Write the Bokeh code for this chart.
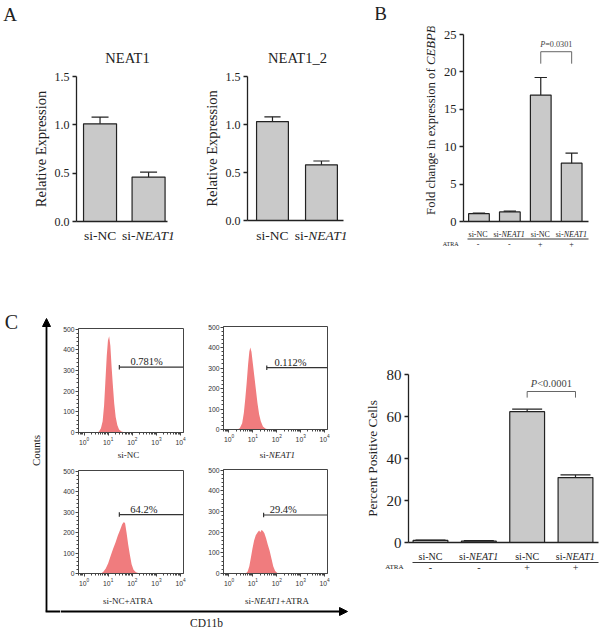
import math
from bokeh.plotting import figure
from bokeh.layouts import row, column
from bokeh.models import (Range1d, FixedTicker, PrintfTickFormatter, Label, Arrow,
                          NormalHead)
from bokeh.embed import file_html
from bokeh.resources import INLINE

# ---------------- data ----------------
a_groups = [("si-NC", None), ("si-", "NEAT1")]
neat1_mean = [1.01, 0.46]
neat1_err = [0.07, 0.05]
neat1_2_mean = [1.03, 0.58]
neat1_2_err = [0.05, 0.04]

bc_groups = [("si-NC", None), ("si-", "NEAT1"), ("si-NC", None), ("si-", "NEAT1")]
atra_flags = ["-", "-", "+", "+"]
cebpb_mean = [1.05, 1.28, 16.9, 7.8]
cebpb_err = [0.08, 0.10, 2.35, 1.35]
cebpb_p = "=0.0301"
cebpb_bracket = [21.1, 22.7]

cd11b_mean = [1.0, 0.7, 62.3, 30.9]
cd11b_err = [0.2, 0.2, 1.2, 1.3]
cd11b_p = "<0.0001"
cd11b_bracket = [69.0, 71.9]

h1_x = [3.55, 4.17, 5.01, 5.89, 6.76, 7.59, 8.71, 9.77, 10.96, 12.30, 13.80, 15.49,
        17.78, 20.42, 23.99, 28.18, 35.48, 50.12]
h1_n = [0, 5, 20, 55, 130, 240, 370, 445, 465, 420, 320, 235, 140, 75, 35, 15, 5, 0]
h2_x = [2.24, 2.82, 3.55, 4.17, 4.79, 5.50, 6.31, 7.08, 7.76, 8.71, 10.0, 11.48, 13.18,
        15.49, 18.20, 21.38, 26.30, 33.11, 44.67]
h2_n = [0, 6, 30, 80, 150, 230, 320, 380, 400, 380, 320, 260, 200, 130, 75, 40, 15, 5, 0]
h3_x = [5.01, 6.31, 7.94, 10.0, 12.59, 15.85, 19.95, 25.12, 31.62, 38.02, 44.67, 50.12,
        57.54, 67.61, 79.43, 93.33, 112.2, 141.3, 199.5]
h3_n = [0, 8, 25, 50, 85, 120, 150, 185, 215, 240, 252, 245, 200, 140, 90, 45, 18, 6, 0]
h4_x = [5.01, 6.03, 7.08, 8.32, 9.55, 11.22, 13.18, 15.85, 18.20, 20.42, 22.91, 26.30,
        30.20, 35.48, 41.69, 50.12, 60.26, 70.79, 85.11, 104.7, 141.3]
h4_n = [0, 10, 35, 80, 120, 160, 185, 200, 208, 200, 210, 205, 195, 170, 140, 110, 70,
        35, 12, 3, 0]
hist_names = [[("si-NC", False)], [("si-", False), ("NEAT1", True)],
              [("si-NC+ATRA", False)], [("si-", False), ("NEAT1", True), ("+ATRA", False)]]
gate_start = [29, 38, 29, 28]
gate_level = [316, 302, 288, 283]
gate_pct = ["0.781%", "0.112%", "64.2%", "29.4%"]
gate_text_x = [389, 372, 300, 186]

# ---------------- style ----------------
SERIF = "Liberation Serif"
SANS = "Liberation Sans"
INK = "#222222"
BAR_FILL = "#c9c9c9"
HIST_FILL = "#f07c7e"
HX0, HX1 = 10 ** -0.23, 10 ** 4.12

W_REG = {' ': 250, 's': 389, 'i': 278, '-': 333, 'N': 722, 'C': 667, 'E': 611, 'A': 722,
         'T': 611, '1': 500, '+': 564, 'R': 667, 'F': 556, 'o': 500, 'l': 278, 'd': 500,
         'c': 444, 'h': 500, 'a': 444, 'n': 500, 'g': 500, 'e': 444, 'x': 500, 'p': 500,
         'r': 333, 'f': 333, '=': 564, '<': 564, '0': 500, '3': 500, '.': 250}
W_IT = {'N': 667, 'E': 611, 'A': 611, 'T': 556, '1': 500, 'C': 667, 'B': 611, 'P': 611}


def tw(text, italic, size):
    tab = W_IT if italic else W_REG
    return sum(tab.get(ch, 500) for ch in text) / 1000.0 * size


def iso(p):
    return column(p)


def chart_fig(tile, frame, **kw):
    x0, x1, y0, y1 = tile
    fl, fr, ft, fb = frame
    p = figure(width=x1 - x0, height=y1 - y0, title=None, output_backend="svg",
               toolbar_location=None, tools="", **kw)
    p.min_border_left = int(round(fl - x0))
    p.min_border_right = int(round(x1 - fr))
    p.min_border_top = int(round(ft - y0))
    p.min_border_bottom = int(round(y1 - fb))
    p.outline_line_color = None
    p.background_fill_color = "white"
    p.border_fill_color = "white"
    p.grid.visible = False
    return p


def strip(tile):
    x0, x1, y0, y1 = tile
    p = figure(width=x1 - x0, height=y1 - y0, title=None, output_backend="svg",
               toolbar_location=None, tools="", x_range=Range1d(x0, x1),
               y_range=Range1d(y1, y0), x_axis_location=None, y_axis_location=None)
    p.min_border_left = p.min_border_right = p.min_border_top = p.min_border_bottom = 0
    p.outline_line_color = None
    p.background_fill_color = "white"
    p.border_fill_color = "white"
    p.grid.visible = False
    return p


def txt(p, x, y, text, size, italic=False, align="center", baseline="middle", angle=0.0,
        font=SERIF, color=INK):
    p.add_layout(Label(x=x, y=y, text=text, text_font=font, text_font_size=f"{size}px",
                       text_font_style="italic" if italic else "normal",
                       text_align=align, text_baseline=baseline, angle=angle,
                       text_color=color))


def mixed_h(p, xc, y, parts, size, color=INK):
    total = sum(tw(t, it, size) for t, it in parts)
    x = xc - total / 2
    for t, it in parts:
        txt(p, x, y, t, size, italic=it, align="left", color=color)
        x += tw(t, it, size)


def mixed_v(p, x, yc, parts, size):
    total = sum(tw(t, it, size) for t, it in parts)
    y = yc + total / 2
    for t, it in parts:
        txt(p, x, y, t, size, italic=it, align="left", angle=math.pi / 2)
        y -= tw(t, it, size)


def line(p, xa, ya, xb, yb, width=1.0, color=INK, head=False):
    p.add_layout(Arrow(x_start=xa, y_start=ya, x_end=xb, y_end=yb, line_color=color,
                       line_width=width,
                       end=NormalHead(size=8, fill_color=color, line_color=color)
                       if head else None))


def cat_px(frame, xr, i):
    fl, fr, ft, fb = frame
    return fl + (i - xr[0]) / (xr[1] - xr[0]) * (fr - fl)


def bar_fig(tile, frame, xr, yr, yticks, fmt, tick_size, means, errs, bw, cw,
            ylabel=None, ylabel_size=14, ylabel_standoff=3):
    p = chart_fig(tile, frame, x_range=Range1d(*xr), y_range=Range1d(*yr))
    p.xaxis.ticker = FixedTicker(ticks=[])
    p.yaxis.ticker = FixedTicker(ticks=yticks)
    p.yaxis.formatter = PrintfTickFormatter(format=fmt)
    p.axis.axis_line_color = INK
    p.axis.axis_line_width = 1.3
    p.axis.major_tick_line_color = INK
    p.axis.major_tick_line_width = 1.3
    p.yaxis.major_tick_out = 4
    p.yaxis.major_tick_in = 0
    p.axis.minor_tick_line_color = None
    p.yaxis.major_label_standoff = 3
    p.yaxis.major_label_text_font = SERIF
    p.yaxis.major_label_text_font_size = f"{tick_size}px"
    p.yaxis.major_label_text_color = INK
    if ylabel:
        p.yaxis.axis_label = ylabel
        p.yaxis.axis_label_text_font = SERIF
        p.yaxis.axis_label_text_font_size = f"{ylabel_size}px"
        p.yaxis.axis_label_text_font_style = "normal"
        p.yaxis.axis_label_text_color = INK
        p.yaxis.axis_label_standoff = ylabel_standoff
    xs = list(range(len(means)))
    p.vbar(x=xs, top=means, width=bw, fill_color=BAR_FILL, line_color=INK, line_width=1.2)
    tops = [m + e for m, e in zip(means, errs)]
    p.segment(x0=xs, y0=means, x1=xs, y1=tops, line_color=INK, line_width=1.2)
    p.segment(x0=[x - cw / 2 for x in xs], y0=tops, x1=[x + cw / 2 for x in xs], y1=tops,
              line_color=INK, line_width=1.2)
    return p


# ---------------- panel A ----------------
XR_A1, F_A1 = (-0.485, 1.39), (76, 167, 76, 221)
pa1 = bar_fig((0, 180, 68, 229), F_A1, XR_A1, (0, 1.5), [0, 0.5, 1.0, 1.5], "%.1f", 12,
              neat1_mean, neat1_err, 0.68, 0.35, ylabel="Relative Expression",
              ylabel_size=14.5)
sa1_top = strip((0, 180, 0, 68))
txt(sa1_top, 9.5, 13.5, "A", 19)
txt(sa1_top, 127, 57, "NEAT1", 14.5)
sa1_bot = strip((0, 180, 229, 258))
for i, (a, b) in enumerate(a_groups):
    mixed_h(sa1_bot, cat_px(F_A1, XR_A1, i), 235,
            [(a, False)] + ([(b, True)] if b else []), 13.5)

XR_A2, F_A2 = (-0.51, 1.45), (247, 343, 76, 220)
pa2 = bar_fig((180, 375, 68, 229), F_A2, XR_A2, (0, 1.5), [0, 0.5, 1.0, 1.5], "%.1f", 12,
              neat1_2_mean, neat1_2_err, 0.65, 0.33, ylabel="Relative Expression",
              ylabel_size=14.5)
sa2_top = strip((180, 375, 0, 68))
txt(sa2_top, 297, 57, "NEAT1_2", 14.5)
sa2_bot = strip((180, 375, 229, 258))
for i, (a, b) in enumerate(a_groups):
    mixed_h(sa2_bot, cat_px(F_A2, XR_A2, i), 235,
            [(a, False)] + ([(b, True)] if b else []), 13.5)

# ---------------- panel B ----------------
XR_B, F_B = (-0.5, 3.545), (462, 588, 34, 221)
pb = bar_fig((440, 600, 26, 229), F_B, XR_B, (0, 25), [0, 5, 10, 15, 20, 25], "%d", 12.5,
             cebpb_mean, cebpb_err, 0.67, 0.4)
pb.line(x=[2, 2, 3, 3], y=[cebpb_bracket[0], cebpb_bracket[1], cebpb_bracket[1],
                           cebpb_bracket[0]], line_color="#555555", line_width=0.9)
pb_scale = (F_B[1] - F_B[0]) / (XR_B[1] - XR_B[0])
pb_p_parts = [("P", True), (cebpb_p, False)]
pb_p_x = 2.5 - (sum(tw(t, it, 8.2) for t, it in pb_p_parts) / 2) / pb_scale
for t, it in pb_p_parts:
    pb.add_layout(Label(x=pb_p_x, y=cebpb_bracket[1] + 0.35, text=t, text_font=SERIF,
                        text_font_size="8.2px", text_font_style="italic" if it else "normal",
                        text_align="left", text_baseline="bottom", text_color="#444444"))
    pb_p_x += tw(t, it, 8.2) / pb_scale
sb_top = strip((375, 600, 0, 26))
txt(sb_top, 380, 13, "B", 19)
sb_left = strip((375, 440, 26, 229))
mixed_v(sb_left, 430, 119.7, [("Fold change in expression of ", False), ("CEBPB", True)], 12.7)
sb_bot = strip((375, 600, 229, 258))
for i, (a, b) in enumerate(bc_groups):
    cx = cat_px(F_B, XR_B, i)
    mixed_h(sb_bot, cx, 233.5, [(a, False)] + ([(b, True)] if b else []), 8)
    txt(sb_bot, cx, 243.5, atra_flags[i], 8)
sb_bot.segment(x0=[467], y0=[238.5], x1=[588], y1=[238.5], line_color=INK, line_width=0.9)
txt(sb_bot, 458, 243.5, "ATRA", 6, align="right")

# ---------------- panel C : bar ----------------
XR_C, F_C = (-0.455, 3.476), (408, 598, 374, 542)
pcb = bar_fig((350, 600, 258, 550), F_C, XR_C, (0, 80), [0, 20, 40, 60, 80], "%d", 15,
              cd11b_mean, cd11b_err, 0.72, 0.62, ylabel="Percent Positive Cells",
              ylabel_size=13.3, ylabel_standoff=4)
pcb.line(x=[2, 2, 3, 3], y=[cd11b_bracket[0], cd11b_bracket[1], cd11b_bracket[1],
                            cd11b_bracket[0]], line_color="#555555", line_width=0.9)
pc_p_parts = [("P", True), (cd11b_p, False)]
pc_scale = (F_C[1] - F_C[0]) / (XR_C[1] - XR_C[0])
pc_p_x = 2.5 - (sum(tw(t, it, 10.5) for t, it in pc_p_parts) / 2) / pc_scale
for t, it in pc_p_parts:
    pcb.add_layout(Label(x=pc_p_x, y=cd11b_bracket[1] + 1.0, text=t, text_font=SERIF,
                         text_font_size="10.5px", text_font_style="italic" if it else "normal",
                         text_align="left", text_baseline="bottom", text_color="#444444"))
    pc_p_x += tw(t, it, 10.5) / pc_scale
sc_bot = strip((350, 600, 550, 629))
for i, (a, b) in enumerate(bc_groups):
    cx = cat_px(F_C, XR_C, i)
    mixed_h(sc_bot, cx, 556, [(a, False)] + ([(b, True)] if b else []), 10)
    txt(sc_bot, cx, 567, atra_flags[i], 10)
sc_bot.segment(x0=[412], y0=[562], x1=[598], y1=[562], line_color=INK, line_width=0.9)
txt(sc_bot, 403, 566.5, "ATRA", 7, align="right")


# ---------------- panel C : histograms ----------------
def hist_fig(tile, frame, xs, ns, k):
    p = chart_fig(tile, frame, x_axis_type="log", x_range=Range1d(HX0, HX1),
                  y_range=Range1d(0, 503))
    p.outline_line_color = "#444444"
    p.outline_line_width = 1
    p.yaxis.ticker = FixedTicker(ticks=[0, 100, 200, 300, 400, 500],
                                 minor_ticks=[v for v in range(0, 501, 20)])
    p.axis.axis_line_color = "#444444"
    p.axis.major_tick_line_color = "#444444"
    p.axis.minor_tick_line_color = "#444444"
    p.axis.major_tick_in = 0
    p.axis.minor_tick_in = 0
    p.axis.major_tick_out = 3
    p.axis.minor_tick_out = 2
    p.axis.major_label_standoff = 1
    p.axis.major_label_text_font = SANS
    p.axis.major_label_text_font_size = "6.8px"
    p.axis.major_label_text_color = "#333333"
    p.varea(x=xs, y1=[0] * len(xs), y2=ns, fill_color=HIST_FILL)
    g0, gy = gate_start[k], gate_level[k]
    p.segment(x0=[g0], y0=[gy], x1=[HX1], y1=[gy], line_color="#333333", line_width=1.2)
    p.segment(x0=[g0], y0=[gy - 11], x1=[g0], y1=[gy + 11], line_color="#333333",
              line_width=1.2)
    p.add_layout(Label(x=gate_text_x[k], y=gy, text=gate_pct[k], text_font=SERIF,
                       text_font_size="10.5px", text_align="center",
                       text_baseline="bottom", text_color="#222222"))
    return p


ph1 = hist_fig((60, 200, 258, 448), (78, 183, 328, 432), h1_x, h1_n, 0)
ph2 = hist_fig((200, 350, 258, 448), (223, 327, 326, 429), h2_x, h2_n, 1)
ph3 = hist_fig((60, 200, 460, 592), (78, 183, 470, 573), h3_x, h3_n, 2)
ph4 = hist_fig((200, 350, 460, 592), (223, 327, 469, 573), h4_x, h4_n, 3)
sn1 = strip((60, 350, 448, 460))
mixed_h(sn1, 128, 454, hist_names[0], 9)
mixed_h(sn1, 277, 454, hist_names[1], 9)
sn2 = strip((60, 350, 592, 606))
mixed_h(sn2, 128, 600, hist_names[2], 9)
mixed_h(sn2, 277, 600, hist_names[3], 9)

# ---------------- panel C : frame arrows ----------------
sl = strip((0, 60, 258, 629))
line(sl, 46, 611, 46, 318, width=1.8, color="#000000", head=True)
sl.segment(x0=[45.1], y0=[611], x1=[60], y1=[611], line_color="#000000", line_width=1.8)
txt(sl, 11, 321, "C", 20)
txt(sl, 35, 450, "Counts", 11, angle=math.pi / 2)

sbot = strip((60, 350, 606, 629))
line(sbot, 60, 611, 347, 611, width=1.8, color="#000000", head=True)
txt(sbot, 206, 622, "CD11b", 11.5)

top_row = row(
    column(iso(sa1_top), iso(pa1), iso(sa1_bot)),
    column(iso(sa2_top), iso(pa2), iso(sa2_bot)),
    column(iso(sb_top), row(iso(sb_left), iso(pb)), iso(sb_bot)),
)
bottom_row = row(
    iso(sl),
    column(row(iso(ph1), iso(ph2)), iso(sn1), row(iso(ph3), iso(ph4)), iso(sn2), iso(sbot)),
    column(iso(pcb), iso(sc_bot)),
)
layout = column(top_row, bottom_row)

open("out.html", "w").write(file_html(layout, INLINE))
